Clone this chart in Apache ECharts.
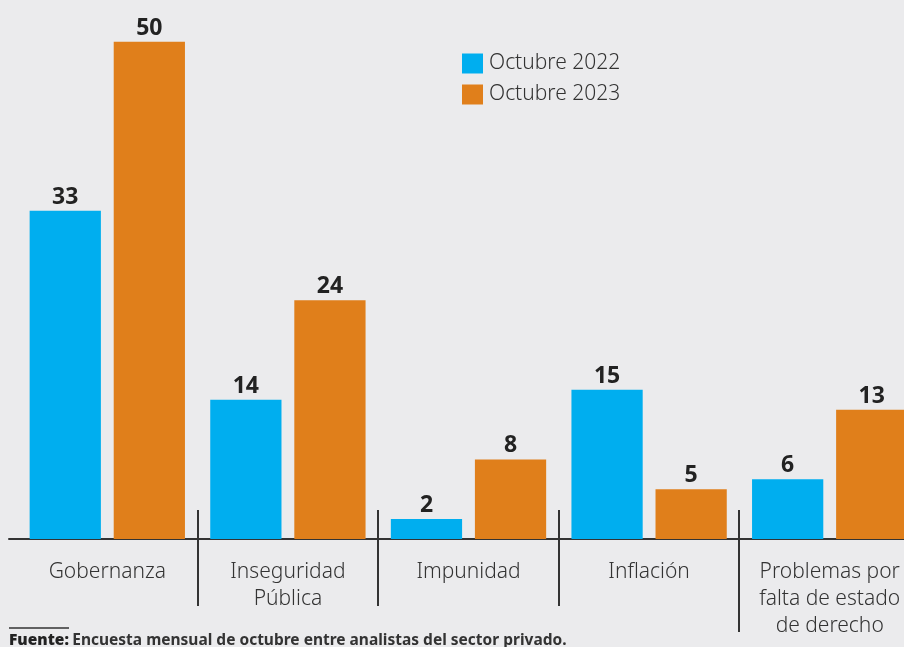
<!DOCTYPE html>
<html>
<head>
<meta charset="utf-8">
<script src="https://cdn.jsdelivr.net/npm/echarts@6/dist/echarts.min.js"></script>
<style>
    html, body { margin: 0; padding: 0; background: #ebebed; }
    #chart { width: 904px; height: 647px; }
</style>
</head>
<body>
<div id="chart"></div>
<script>
var categories = ['Gobernanza', 'Inseguridad\nPública', 'Impunidad', 'Inflación', 'Problemas por\nfalta de estado\nde derecho'];
var data2022 = [33, 14, 2, 15, 6];
var data2023 = [50, 24, 8, 5, 13];
var seriesNames = ['Octubre 2022', 'Octubre 2023'];
// separators between categories (index of category on their left)
var separators = [[0, 0], [1, 0], [2, 0], [3, 0]];

var blue = '#00aeef';
var orange = '#e07f1b';
var ink = '#333333';

var labelStyle = {
    show: true,
    position: 'top',
    distance: 2,
    color: '#222222',
    fontSize: 23,
    fontWeight: 'bold',
    fontFamily: 'Noto Sans'
};

var option = {
    backgroundColor: '#ebebed',
    animation: false,
    textStyle: { fontFamily: 'Noto Sans' },
    legend: {
        orient: 'vertical',
        left: 457,
        top: 48,
        itemWidth: 21,
        itemHeight: 20,
        itemGap: 10,
        icon: 'rect',
        data: seriesNames,
        textStyle: { fontSize: 21, fontWeight: 300, color: ink, padding: [0, 0, 0, 1] }
    },
    grid: [
        { left: 17, width: 903, top: 2, bottom: 108, outerBoundsMode: 'none', containLabel: false },
        { left: 9, right: 0, top: 2, bottom: 108, outerBoundsMode: 'none', containLabel: false }
    ],
    xAxis: [
        {
            type: 'category',
            gridIndex: 0,
            data: categories,
            axisLine: { show: false },
            axisTick: { show: false },
            axisLabel: {
                interval: 0,
                margin: 20,
                fontSize: 21,
                fontWeight: 300,
                lineHeight: 27,
                color: ink,
                verticalAlign: 'top'
            }
        },
        {
            type: 'value',
            gridIndex: 1,
            min: 0,
            max: 1,
            axisLine: { show: true, lineStyle: { color: ink, width: 2 } },
            axisTick: { show: false },
            axisLabel: { show: false },
            splitLine: { show: false }
        }
    ],
    yAxis: [
        { type: 'value', gridIndex: 0, min: 0, max: 54, show: false, splitLine: { show: false } },
        { type: 'value', gridIndex: 1, show: false, splitLine: { show: false } }
    ],
    series: [
        {
            name: seriesNames[0],
            type: 'bar',
            data: data2022,
            barGap: '18%',
            barCategoryGap: '14%',
            itemStyle: { color: blue },
            label: labelStyle
        },
        {
            name: seriesNames[1],
            type: 'bar',
            data: data2023,
            itemStyle: { color: orange },
            label: labelStyle
        },
        {
            type: 'custom',
            data: separators,
            silent: true,
            clip: false,
            z: 5,
            renderItem: function (params, api) {
                var c = api.coord([api.value(0), 0]);
                var half = api.size([1, 0])[0] / 2;
                var x = Math.round(c[0] + half);
                var down = params.dataIndex === separators.length - 1 ? 93 : 67;
                return {
                    type: 'line',
                    shape: { x1: x, y1: c[1] - 29, x2: x, y2: c[1] + down },
                    style: { stroke: ink, lineWidth: 2 }
                };
            }
        }
    ],
    graphic: [
        {
            type: 'line',
            shape: { x1: 9, y1: 628, x2: 69, y2: 628 },
            style: { stroke: ink, lineWidth: 1.5 }
        },
        {
            type: 'text',
            left: 9,
            top: 633,
            style: {
                text: '{b|Fuente:} {n|Encuesta mensual de octubre entre analistas del sector privado.}',
                rich: {
                    b: { fontSize: 15.5, fontWeight: 900, fill: '#222222', fontFamily: 'Noto Sans' },
                    n: { fontSize: 15.5, fontWeight: 'bold', fill: '#333333', fontFamily: 'Noto Sans' }
                }
            }
        }
    ]
};

var myChart = echarts.init(document.getElementById('chart'));
myChart.setOption(option);
</script>
</body>
</html>
